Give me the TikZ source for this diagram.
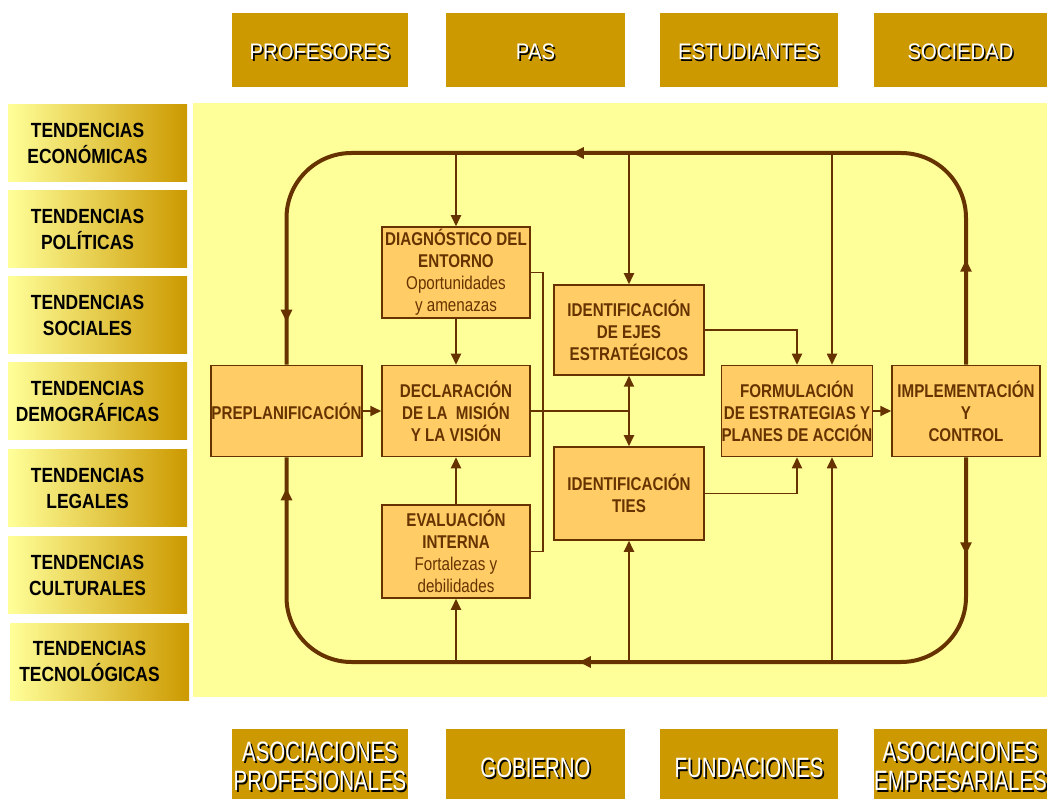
\documentclass[tikz,border=0pt]{standalone}
\usepackage{fontspec}
\setmainfont{Liberation Sans}
\newfontfamily\fin{Liberation Sans}[FakeStretch=0.82]
\newfontfamily\flt{Liberation Sans}[FakeStretch=0.85]
\newfontfamily\ftop{Liberation Sans}[FakeStretch=0.9]
\newfontfamily\fbot{Liberation Sans}[FakeStretch=0.73]
\usetikzlibrary{arrows.meta,decorations.markings}
\definecolor{brn}{HTML}{663300}
\definecolor{boxfill}{HTML}{FFCC66}
\definecolor{bgyel}{HTML}{FFFF99}
\definecolor{gold}{HTML}{CC9900}
\tikzset{
  stage/.style={draw=brn, line width=1.5pt, fill=boxfill, align=center, inner sep=0pt,
    text=brn, font=\fin\bfseries\fontsize{18.5}{22}\selectfont,
    minimum width=148pt, minimum height=91pt},
  trend/.style={shading=axis, left color=bgyel, right color=gold, draw=none,
    minimum width=179pt, minimum height=77pt, inner sep=0pt},
  trendtext/.style={align=center, text=black, font=\flt\bfseries\fontsize{20.5}{26}\selectfont},
  actor/.style={fill=gold, draw=none, minimum height=74pt, inner sep=0pt},
  toptext/.style={align=center, font=\ftop\fontsize{22.5}{28}\selectfont},
  bottext/.style={align=center, font=\fbot\fontsize{28}{29}\selectfont},
  link/.style={draw=brn, line width=1.8pt},
  arr/.style={link, -{Triangle[length=11pt,width=10pt]}},
  cycle/.style={draw=brn, line width=4pt, rounded corners=65pt},
  mid/.style={postaction={decorate}, decoration={markings, #1}}
}
\newcommand{\midtip}{\arrow[brn]{Triangle[length=12pt,width=11pt]}}
\begin{document}
\begin{tikzpicture}[x=1pt,y=-1pt]
\useasboundingbox (0,0) rectangle (1047,799);
\fill[white] (0,0) rectangle (1047,799);

% central panel
\fill[bgyel] (193,103) rectangle (1047,697);

% external stakeholders, top row
\node[actor, minimum width=176pt] (profesores) at (320,50) {};
\node[actor, minimum width=179pt] (pas) at (535.5,50) {};
\node[actor, minimum width=178pt] (estudiantes) at (749,50) {};
\node[actor, minimum width=173pt] (sociedad) at (960.5,50) {};
\foreach \n/\t in {profesores/PROFESORES, pas/PAS, estudiantes/ESTUDIANTES, sociedad/SOCIEDAD}{
  \node[toptext, text=black] (\n-s) at ([shift={(1.6pt,-3.6pt)}]\n.center) {\t};
  \node[toptext, text=white] (\n-t) at ([shift={(0pt,-2pt)}]\n.center) {\t};
}

% external stakeholders, bottom row
\node[actor, minimum width=176pt, minimum height=70pt] (asprof) at (320,764) {};
\node[actor, minimum width=179pt, minimum height=70pt] (gobierno) at (535.5,764) {};
\node[actor, minimum width=178pt, minimum height=70pt] (fundaciones) at (749,764) {};
\node[actor, minimum width=173pt, minimum height=70pt] (asemp) at (960.5,764) {};
\foreach \n/\t/\dy in {asprof/{ASOCIACIONES\\PROFESIONALES}/2.5, gobierno/GOBIERNO/4, fundaciones/FUNDACIONES/4, asemp/{ASOCIACIONES\\EMPRESARIALES}/2.5}{
  \node[bottext, text=black] (\n-s) at ([shift={(1.8pt,-1.8pt-\dy pt)}]\n.center) {\t};
  \node[bottext, text=white] (\n-t) at ([shift={(0pt,-\dy pt)}]\n.center) {\t};
}

% environmental trends
\foreach \n/\y/\t/\x in {eco/143.5/ECONÓMICAS/97.5, pol/229.5/POLÍTICAS/97.5, soc/315.5/SOCIALES/97.5,
    dem/401.5/DEMOGRÁFICAS/97.5, leg/488/LEGALES/97.5, cul/575/CULTURALES/97.5, tec/661.5/TECNOLÓGICAS/99.5}{
  \node[trend] (\n) at (\x,\y) {};
  \node[trendtext] (\n-t) at ([xshift=-10pt]\n.center) {TENDENCIAS\\\t};
}

% planning stages
\node[stage, minimum width=151pt] (preplan) at (286.5,411) {PREPLANIFICACIÓN};
\node[stage] (diag) at (456,272.5) {DIAGNÓSTICO DEL\\ENTORNO\\{\mdseries Oportunidades}\\{\mdseries y amenazas}};
\node[stage] (decl) at (456,411) {DECLARACIÓN\\DE LA\ \ MISIÓN\\Y LA VISIÓN};
\node[stage, minimum height=93pt] (eval) at (456,551.5) {EVALUACIÓN\\INTERNA\\{\mdseries Fortalezas y}\\{\mdseries debilidades}};
\node[stage, minimum width=150pt, minimum height=90pt] (ejes) at (629,330) {IDENTIFICACIÓN\\DE EJES\\ESTRATÉGICOS};
\node[stage, minimum width=150pt, minimum height=93pt] (ties) at (629,493.5) {IDENTIFICACIÓN\\TIES};
\node[stage, minimum width=150pt] (formul) at (797,411) {FORMULACIÓN\\DE ESTRATEGIAS Y\\PLANES DE ACCIÓN};
\node[stage] (impl) at (966,411) {IMPLEMENTACIÓN\\Y\\CONTROL};

% levels of the feedback loop
\coordinate (top) at (0,153);
\coordinate (bot) at (0,662);

% feedback loop
\draw[cycle, mid={mark=at position 105pt with {\midtip}, mark=at position 578pt with {\midtip}, mark=at position -43pt with {\midtip}}]
  (impl.north) -- (impl.north |- top) -- (preplan.north |- top) -- (preplan.north);
\draw[cycle, mid={mark=at position 97pt with {\midtip}, mark=at position 564pt with {\midtip}, mark=at position -31pt with {\midtip}}]
  (impl.south) -- (impl.south |- bot) -- (preplan.south |- bot) -- (preplan.south);

% inputs from the loop
\draw[arr] (diag.north |- top) -- (diag.north);
\draw[arr] (ejes.north |- top) -- (ejes.north);
\draw[arr] ([xshift=35pt]formul.north |- top) -- ([xshift=35pt]formul.north);
\draw[arr] (eval.south |- bot) -- (eval.south);
\draw[arr] (ties.south |- bot) -- (ties.south);
\draw[arr] ([xshift=35pt]formul.south |- bot) -- ([xshift=35pt]formul.south);

% internal flow
\draw[arr] (preplan.east) -- (decl.west);
\draw[arr] (diag.south) -- (decl.north);
\draw[arr] (eval.north) -- (decl.south);
\draw[link] (diag.east) -- ++(12pt,0) |- (eval.east);
\coordinate (split) at (decl.east -| ejes.south);
\draw[link] (decl.east) -- (split);
\draw[arr] (split) -- (ejes.south);
\draw[arr] (split) -- (ties.north);
\draw[arr] (ejes.east) -| (formul.north);
\draw[arr] (ties.east) -| (formul.south);
\draw[arr] (formul.east) -- (impl.west);
\end{tikzpicture}
\end{document}
